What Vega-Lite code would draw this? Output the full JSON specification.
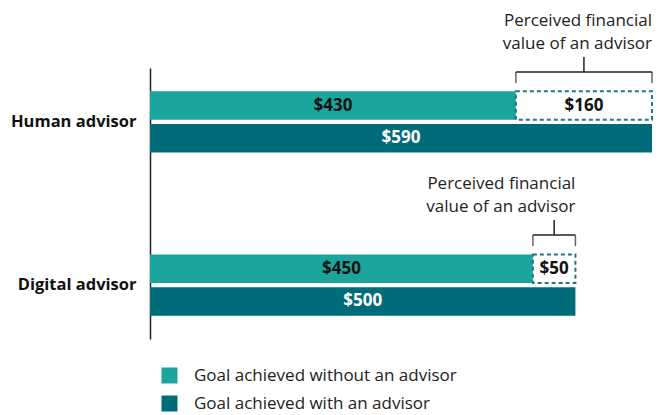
{
  "$schema": "https://vega.github.io/schema/vega-lite/v6.json",
  "width": 502,
  "height": 271,
  "autosize": {"type": "none"},
  "padding": {"left": 150, "top": 68, "right": 10, "bottom": 76},
  "background": "white",
  "config": {
    "font": "Open Sans",
    "view": {"stroke": null},
    "text": {"fontSize": 16}
  },
  "datasets": {
    "bars": [
      {"advisor": "Human advisor", "series": "Goal achieved without an advisor", "from": 0, "value": 430, "label": "$430"},
      {"advisor": "Human advisor", "series": "Goal achieved with an advisor", "from": 0, "value": 590, "label": "$590"},
      {"advisor": "Digital advisor", "series": "Goal achieved without an advisor", "from": 0, "value": 450, "label": "$450"},
      {"advisor": "Digital advisor", "series": "Goal achieved with an advisor", "from": 0, "value": 500, "label": "$500"}
    ],
    "gaps": [
      {"advisor": "Human advisor", "series": "Goal achieved without an advisor", "start": 430, "end": 590, "label": "$160", "note": "Perceived financial\nvalue of an advisor"},
      {"advisor": "Digital advisor", "series": "Goal achieved without an advisor", "start": 450, "end": 500, "label": "$50", "note": "Perceived financial\nvalue of an advisor"}
    ]
  },
  "encoding": {
    "y": {
      "field": "advisor",
      "type": "nominal",
      "scale": {"domain": ["Human advisor", "Digital advisor"], "paddingInner": 0.6235, "paddingOuter": 0.142},
      "axis": {
        "title": null,
        "ticks": false,
        "domain": true,
        "domainColor": "#222222",
        "domainWidth": 1.5,
        "labelFontSize": 16.5,
        "labelFontWeight": "bold",
        "labelColor": "#111111",
        "labelPadding": 14
      }
    }
  },
  "layer": [
    {
      "data": {"name": "bars"},
      "mark": {"type": "bar"},
      "encoding": {
        "x": {"field": "value", "type": "quantitative", "scale": {"domain": [0, 590], "nice": false, "zero": true}, "axis": null},
        "yOffset": {
          "field": "series",
          "type": "nominal",
          "scale": {"domain": ["Goal achieved without an advisor", "Goal achieved with an advisor"], "paddingInner": 0.125, "paddingOuter": 0}
        },
        "color": {
          "field": "series",
          "type": "nominal",
          "scale": {"domain": ["Goal achieved without an advisor", "Goal achieved with an advisor"], "range": ["#1ba59c", "#006c7a"]},
          "legend": {
            "title": null,
            "orient": "none",
            "legendX": 11,
            "legendY": 299,
            "padding": 0,
            "symbolType": "square",
            "symbolSize": 256,
            "symbolStrokeWidth": 0,
            "symbolOpacity": 1,
            "labelFontSize": 17,
            "labelLimit": 0,
            "labelColor": "#222222",
            "labelOffset": 16,
            "rowPadding": 10
          }
        }
      }
    },
    {
      "data": {"name": "bars"},
      "transform": [{"fold": ["from", "value"], "as": ["edge", "pos"]}],
      "mark": {"type": "text", "fontWeight": "bold", "fontSize": 17, "baseline": "middle", "align": "center"},
      "encoding": {
        "x": {"field": "pos", "type": "quantitative", "aggregate": "mean"},
        "yOffset": {"field": "series", "type": "nominal"},
        "text": {"field": "label"},
        "color": {"condition": {"test": "datum.series === 'Goal achieved with an advisor'", "value": "white"}, "value": "#111111"}
      }
    },
    {
      "data": {"name": "gaps"},
      "mark": {"type": "bar", "fill": "white", "stroke": "#1f7880", "strokeWidth": 2, "strokeDash": [4, 3]},
      "encoding": {
        "x": {"field": "start", "type": "quantitative"},
        "x2": {"field": "end"},
        "yOffset": {"field": "series", "type": "nominal"}
      }
    },
    {
      "data": {"name": "gaps"},
      "transform": [{"fold": ["start", "end"], "as": ["edge", "pos"]}],
      "mark": {"type": "text", "fontWeight": "bold", "fontSize": 17, "baseline": "middle", "align": "center", "color": "#111111"},
      "encoding": {
        "x": {"field": "pos", "type": "quantitative", "aggregate": "mean"},
        "yOffset": {"field": "series", "type": "nominal"},
        "text": {"field": "label"}
      }
    },
    {
      "data": {"name": "gaps"},
      "mark": {"type": "rule", "color": "#222222", "strokeWidth": 1.5, "yOffset": -50},
      "encoding": {
        "x": {"field": "start", "type": "quantitative"},
        "x2": {"field": "end"}
      }
    },
    {
      "data": {"name": "gaps"},
      "transform": [{"fold": ["start", "end"], "as": ["edge", "pos"]}],
      "mark": {"type": "tick", "color": "#222222", "thickness": 1.5, "size": 11, "yOffset": -44.5},
      "encoding": {
        "x": {"field": "pos", "type": "quantitative"}
      }
    },
    {
      "data": {"name": "gaps"},
      "transform": [{"fold": ["start", "end"], "as": ["edge", "pos"]}],
      "mark": {"type": "tick", "color": "#222222", "thickness": 1.5, "size": 15, "yOffset": -57.5},
      "encoding": {
        "x": {"field": "pos", "type": "quantitative", "aggregate": "mean"}
      }
    },
    {
      "data": {"name": "gaps"},
      "mark": {"type": "text", "fontSize": 17, "align": "right", "baseline": "middle", "lineBreak": "\n", "lineHeight": 23, "color": "#222222", "dy": -85},
      "encoding": {
        "x": {"field": "end", "type": "quantitative"},
        "yOffset": {"field": "series", "type": "nominal"},
        "text": {"field": "note"}
      }
    }
  ]
}
